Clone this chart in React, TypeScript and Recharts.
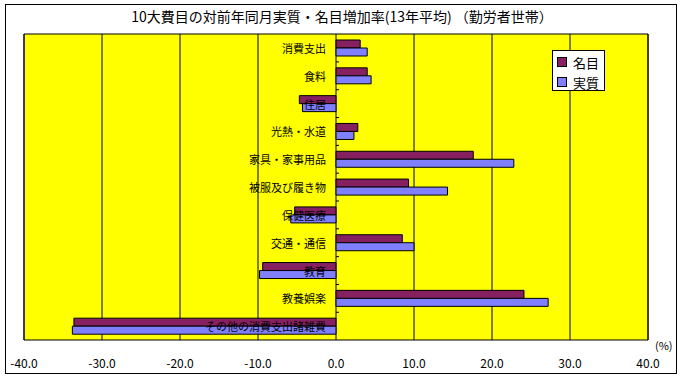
import React from "react";
import {
    BarChart,
    Bar,
    XAxis,
    YAxis,
    CartesianGrid,
    ReferenceArea,
    LabelList,
    Legend,
} from "recharts";

const categories = [
    "消費支出",
    "食料",
    "住居",
    "光熱・水道",
    "家具・家事用品",
    "被服及び履き物",
    "保健医療",
    "交通・通信",
    "教育",
    "教養娯楽",
    "その他の消費支出諸雑費",
];
const nominal = [3.1, 4.0, -4.7, 2.8, 17.6, 9.3, -5.3, 8.5, -9.4, 24.1, -33.6];
const real = [4.0, 4.5, -4.3, 2.3, 22.8, 14.3, -5.8, 10.0, -9.8, 27.2, -33.8];
const xTicks = [-40, -30, -20, -10, 0, 10, 20, 30, 40];

const W = 684;
const H = 380;
const MARGIN = { top: 34, right: 36, bottom: 10, left: 24 };
const X_AXIS_H = 30;
const PLOT_H = H - MARGIN.top - MARGIN.bottom - X_AXIS_H;
const BAND = PLOT_H / categories.length;
const FONT = '"Noto Sans CJK JP", "Noto Sans", sans-serif';

const data = categories.map((name, i) => ({
    name,
    nominal: nominal[i],
    real: real[i],
}));

function CategoryLabel(props: any) {
    const vb = props.viewBox ?? props;
    const index: number = props.index;
    const x = vb.x ?? props.x;
    const y = vb.y ?? props.y;
    const width = vb.width ?? props.width ?? 0;
    const value = real[index];
    const zx = value < 0 ? (width < 0 ? x : x + width) : x;
    return (
        <g>
            <text
                x={zx - 10}
                y={y}
                textAnchor="end"
                dominantBaseline="central"
                fontSize={11}
                fontFamily={FONT}
                fill="#000"
            >
                {categories[index]}
            </text>
            {index < categories.length - 1 && (
                <line
                    x1={zx}
                    x2={zx + 3}
                    y1={y + BAND / 2}
                    y2={y + BAND / 2}
                    stroke="#000"
                />
            )}
        </g>
    );
}

function LegendBox({ payload }: any) {
    return (
        <div
            style={{
                border: "1px solid #000",
                background: "#fff",
                width: 53,
                height: 41,
                boxSizing: "border-box",
                paddingTop: 1,
                fontFamily: FONT,
            }}
        >
            {(payload ?? []).map((p: any) => (
                <div
                    key={p.value}
                    style={{ display: "flex", alignItems: "center", height: 20, paddingLeft: 4 }}
                >
                    <span
                        style={{
                            width: 8,
                            height: 8,
                            background: p.color,
                            border: "1px solid #000",
                            display: "inline-block",
                        }}
                    />
                    <span style={{ marginLeft: 6, fontSize: 13, color: "#000" }}>{p.value}</span>
                </div>
            ))}
        </div>
    );
}

export default function App() {
    return (
        <div
            style={{
                position: "absolute",
                left: 0,
                top: 0,
                width: W,
                height: H,
                background: "#fff",
                fontFamily: FONT,
            }}
        >
            <div
                style={{
                    position: "absolute",
                    left: 5,
                    top: 4,
                    width: 672,
                    height: 370,
                    border: "1px solid #000",
                    boxSizing: "border-box",
                }}
            />
            <div
                style={{
                    position: "absolute",
                    left: 0,
                    top: 8,
                    width: W,
                    textAlign: "center",
                    fontSize: 14,
                    lineHeight: "16px",
                    color: "#000",
                }}
            >
                10大費目の対前年同月実質・名目増加率(13年平均) （勤労者世帯）
            </div>
            <div
                style={{
                    position: "absolute",
                    left: 655,
                    top: 337,
                    fontSize: 11,
                    color: "#000",
                }}
            >
                (%)
            </div>
            <div style={{ position: "absolute", left: 0, top: 0 }}>
                <BarChart
                    width={W}
                    height={H}
                    data={data}
                    layout="vertical"
                    margin={MARGIN}
                    barGap={0}
                >
                    <CartesianGrid horizontal={false} stroke="#000" fill="#FFFF00" />
                    <XAxis
                        type="number"
                        domain={[-40, 40]}
                        ticks={xTicks}
                        tickFormatter={(v: number) => v.toFixed(1)}
                        axisLine={false}
                        tickLine={false}
                        tickSize={0}
                        tickMargin={19}
                        height={X_AXIS_H}
                        tick={{ fill: "#000", fontSize: 12, fontFamily: FONT }}
                        interval={0}
                    />
                    <YAxis type="category" dataKey="name" hide />
                    <ReferenceArea x1={-40} x2={40} fill="none" stroke="#000" strokeWidth={1} />
                    <Legend
                        layout="vertical"
                        align="center"
                        verticalAlign="middle"
                        content={<LegendBox />}
                        wrapperStyle={{ top: 50, left: 552, width: 53 }}
                    />
                    <Bar
                        dataKey="nominal"
                        name="名目"
                        fill="#862061"
                        stroke="#000"
                        strokeWidth={1}
                        barSize={8}
                        isAnimationActive={false}
                    />
                    <Bar
                        dataKey="real"
                        name="実質"
                        fill="#8080FF"
                        stroke="#000"
                        strokeWidth={1}
                        barSize={8}
                        isAnimationActive={false}
                    >
                        <LabelList dataKey="name" content={<CategoryLabel />} />
                    </Bar>
                </BarChart>
            </div>
        </div>
    );
}
